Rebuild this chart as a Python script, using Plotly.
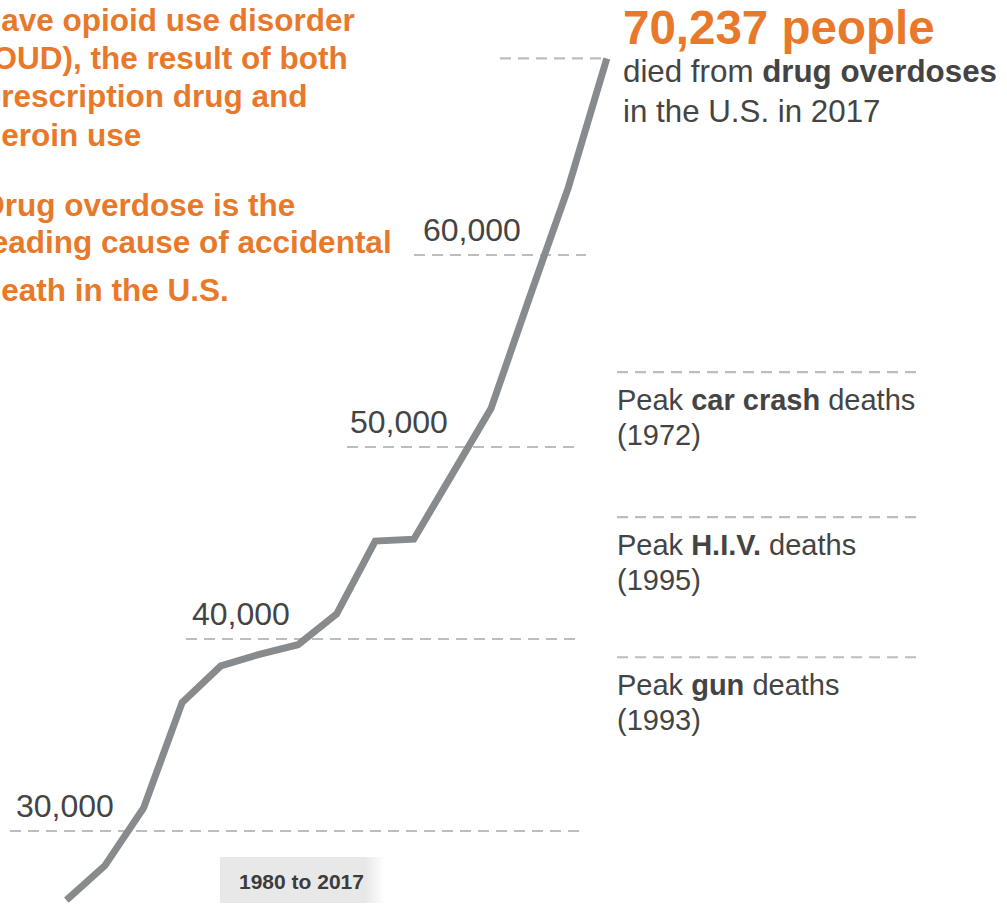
import plotly.graph_objects as go

# Annual drug overdose deaths in the U.S.
years = list(range(2003, 2018))
deaths = [26400, 28200, 31200, 36700, 38600, 39200, 39700, 41300,
          45100, 45200, 48600, 52000, 57800, 63500, 70237]

# Reference gridlines with their labels
grid_values = [30000, 40000, 50000, 60000]
grid_labels = ["30,000", "40,000", "50,000", "60,000"]

# Peak deaths from other causes, for comparison
peak_causes = ["car crash", "H.I.V.", "gun"]
peak_years = [1972, 1995, 1993]
peak_values = [53900, 46350, 39050]

# Orange call-out text
callout_lines = [
    "have opioid use disorder",
    "(OUD), the result of both",
    "prescription drug and",
    "heroin use",
    "Drug overdose is the",
    "leading cause of accidental",
    "death in the U.S.",
]

period_label = "1980 to 2017"

W, H = 1007, 905
FONT = "Liberation Sans, Arial, sans-serif"
ORANGE = "#E8792B"
DARK = "#444444"
LINE = "#888b8e"
DASH = "#bdbdbd"

fig = go.Figure()
fig.add_trace(go.Scatter(
    x=years, y=deaths, mode="lines",
    line=dict(color=LINE, width=7),
    hoverinfo="skip", showlegend=False,
))


def px_x(p):
    return p / W


def px_y(p):
    return 1 - p / H


def text_at(text, x_px, baseline_px, size, color, bold=False, anchor="left"):
    """Place a single line of text by its left edge and baseline (pixels)."""
    bottom = baseline_px + 1 + 0.212 * size
    fig.add_annotation(
        text=f"<b>{text}</b>" if bold else text,
        xref="paper", yref="paper",
        x=px_x(x_px), y=px_y(bottom),
        xanchor=anchor, yanchor="bottom",
        showarrow=False,
        font=dict(family=FONT, size=size, color=color),
    )


def dashed(x0_px, x1_px, value):
    fig.add_shape(
        type="line", xref="paper", yref="y",
        x0=px_x(x0_px), x1=px_x(x1_px), y0=value, y1=value,
        line=dict(color=DASH, width=2.2, dash="11px,7px"),
        layer="below",
    )


# Horizontal gridlines with value labels
grid_spans = [(10, 580, 16), (186, 580, 192), (347, 580, 350), (414, 586, 423)]
for v, lab, (x0, x1, lx) in zip(grid_values, grid_labels, grid_spans):
    dashed(x0, x1, v)
    fig.add_annotation(
        text=lab, xref="paper", yref="y", x=px_x(lx - 2), y=v,
        xanchor="left", yanchor="bottom", yshift=5.5, showarrow=False,
        font=dict(family=FONT, size=32, color=DARK),
    )

# Line marking the latest total
dashed(500, 603, deaths[-1])

# Peak comparisons on the right
for cause, yr, v in zip(peak_causes, peak_years, peak_values):
    dashed(617, 922, v)
    fig.add_annotation(
        text=f"Peak <b>{cause}</b> deaths", xref="paper", yref="y",
        x=px_x(615), y=v, xanchor="left", yanchor="top", yshift=-10,
        showarrow=False, font=dict(family=FONT, size=29, color=DARK),
    )
    fig.add_annotation(
        text=f"({yr})", xref="paper", yref="y",
        x=px_x(615), y=v, xanchor="left", yanchor="top", yshift=-45,
        showarrow=False, font=dict(family=FONT, size=29, color=DARK),
    )

# Headline for the latest year
text_at(f"{deaths[-1]:,} people", 621, 45, 47.5, ORANGE, bold=True)
text_at("died from <b>drug overdoses</b>", 621, 83, 31.3, DARK)
text_at(f"in the U.S. in {years[-1]}", 621, 123, 31.3, DARK)

# Orange call-out paragraphs on the left
callout_baselines = [32, 70, 108, 147, 217, 254, 302]
for line, base in zip(callout_lines, callout_baselines):
    text_at(line, -20, base, 31.5, ORANGE, bold=True)

# Period tag with a soft right edge
fig.add_shape(type="rect", xref="paper", yref="paper",
              x0=px_x(220), x1=px_x(367), y0=px_y(903), y1=px_y(857),
              fillcolor="#e8e8e8", line=dict(width=0), layer="below")
for i in range(8):
    fig.add_shape(type="rect", xref="paper", yref="paper",
                  x0=px_x(367 + 2 * i), x1=px_x(369 + 2 * i),
                  y0=px_y(903), y1=px_y(857),
                  fillcolor="#e8e8e8", opacity=1 - (i + 1) / 9,
                  line=dict(width=0), layer="below")
fig.add_annotation(
    text=f"<b>{period_label}</b>", xref="paper", yref="paper",
    x=px_x(301), y=px_y(881), xanchor="center", yanchor="middle",
    showarrow=False, font=dict(family=FONT, size=21, color="#3c3c3c"),
)

fig.update_layout(
    width=W, height=H,
    margin=dict(l=0, r=0, t=0, b=0),
    paper_bgcolor="white", plot_bgcolor="white",
    xaxis=dict(visible=False, range=[2001.2798, 2027.3679], fixedrange=True),
    yaxis=dict(visible=False, range=[26145.8, 73281.25], fixedrange=True),
    hovermode=False,
    showlegend=False,
)

fig.write_html("out.html", config={"displayModeBar": False})
